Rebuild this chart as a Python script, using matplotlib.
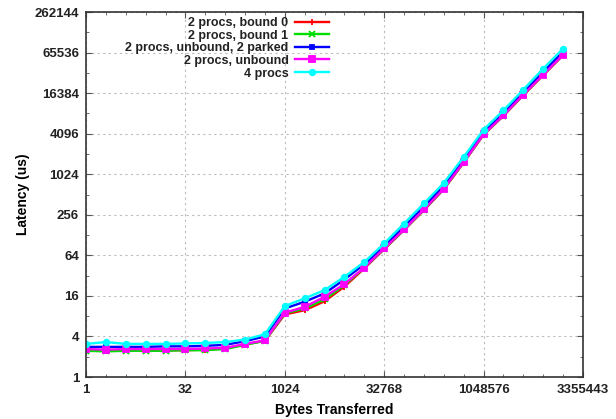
import matplotlib
matplotlib.use("Agg")
import matplotlib.pyplot as plt
from matplotlib.ticker import FixedLocator, NullFormatter

plt.rcParams['font.family'] = ['Liberation Sans', 'DejaVu Sans']

sizes = [2 ** i for i in range(25)]

bound0 = [2.5, 2.45, 2.5, 2.5, 2.5, 2.5, 2.55, 2.65, 3.05, 3.45,
          8.5, 9.8, 13.3, 22.0, 41.0, 79, 152, 300, 615, 1520, 3950, 7550, 15300, 30300, 60000]
bound1 = [2.45, 2.4, 2.45, 2.45, 2.45, 2.5, 2.5, 2.6, 3.0, 3.45,
          8.8, 10.4, 14.2, 23.2, 42.0, 80, 153, 303, 620, 1540, 3990, 7620, 15500, 30600, 60800]
parked = [2.8, 2.8, 2.8, 2.8, 2.85, 2.85, 2.9, 3.0, 3.4, 4.0,
          10.4, 13.1, 17.4, 28.0, 47.4, 88, 172, 340, 690, 1700, 4350, 8350, 17000, 34000, 68000]
unbound = [2.6, 2.55, 2.6, 2.6, 2.6, 2.6, 2.65, 2.7, 3.1, 3.5,
           9.0, 11.0, 15.5, 24.0, 42.2, 81, 155, 307, 627, 1555, 4010, 7660, 15600, 30700, 61000]
four = [3.1, 3.3, 3.1, 3.1, 3.1, 3.15, 3.2, 3.3, 3.6, 4.3,
        11.3, 14.7, 19.5, 30.7, 51.0, 96, 190, 377, 760, 1850, 4700, 9100, 18450, 37800, 74900]

series = [
    ("2 procs, bound 0", bound0, "#ff0000", "+", 5),
    ("2 procs, bound 1", bound1, "#00dd00", "x", 4),
    ("2 procs, unbound, 2 parked", parked, "#0000ff", "s", 3.5),
    ("2 procs, unbound", unbound, "#ff00ff", "s", 5),
    ("4 procs", four, "#00ffff", "o", 4),
]

xticks = [1, 32, 1024, 32768, 1048576, 33554432]
xticklabels = ["1", "32", "1024", "32768", "1048576", "3355443"]
yticks = [1, 4, 16, 64, 256, 1024, 4096, 16384, 65536, 262144]
yticklabels = [str(v) for v in yticks]

fig = plt.figure(figsize=(6.16, 4.19), dpi=100)
ax = fig.add_axes([86 / 616, 1 - 377 / 419, (583 - 86) / 616, (377 - 12) / 419])

for label, ys, color, marker, ms in series:
    ax.plot(sizes, ys, color=color, marker=marker, markersize=ms,
            linewidth=1.7, markeredgewidth=1.3, label=label)

ax.set_xscale('log', base=2)
ax.set_yscale('log', base=2)
ax.set_xlim(1, 33554432)
ax.set_ylim(1, 262144)

ax.xaxis.set_major_locator(FixedLocator(xticks))
ax.set_xticklabels(xticklabels)
ax.xaxis.set_minor_locator(FixedLocator([2 ** i for i in range(26)]))
ax.xaxis.set_minor_formatter(NullFormatter())
ax.yaxis.set_major_locator(FixedLocator(yticks))
ax.set_yticklabels(yticklabels)
ax.yaxis.set_minor_locator(FixedLocator([2 ** i for i in range(19)]))
ax.yaxis.set_minor_formatter(NullFormatter())

ax.tick_params(which='both', direction='in', top=True, right=True, color='#555555')
ax.tick_params(which='major', length=4, labelsize=9.5, pad=5)
ax.tick_params(which='minor', length=2)
for lbl in ax.get_xticklabels() + ax.get_yticklabels():
    lbl.set_fontweight('bold')
    lbl.set_color('#222222')

ax.grid(True, which='major', linestyle=(0, (2, 3)), color='#bbbbbb', linewidth=0.8)
for sp in ax.spines.values():
    sp.set_linewidth(1.2)
    sp.set_color('#333333')

ax.set_xlabel("Bytes Transferred", fontsize=10, fontweight='bold', labelpad=5)
ax.set_ylabel("Latency (us)", fontsize=10, fontweight='bold', labelpad=3)

leg = ax.legend(loc='upper right', bbox_to_anchor=(329 / 616, 1 - 17 / 419),
                bbox_transform=fig.transFigure, frameon=False,
                markerfirst=False, numpoints=1, handlelength=2.7,
                labelspacing=0.05, borderpad=0, borderaxespad=0,
                handletextpad=0.55, prop={'size': 9, 'weight': 'bold'})
for t in leg.get_texts():
    t.set_color('#222222')

fig.savefig("out.png", dpi=100)
